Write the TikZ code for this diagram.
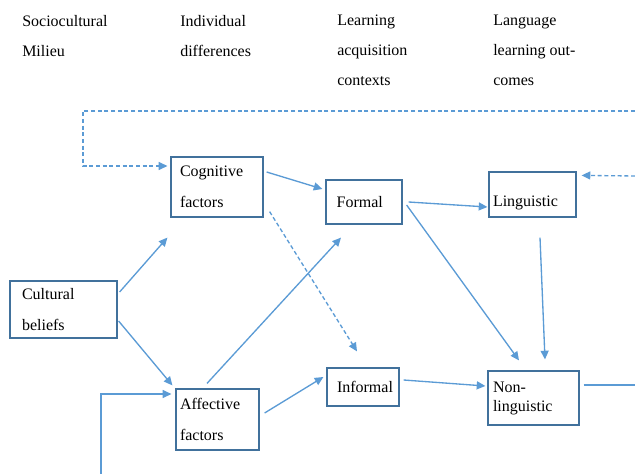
\documentclass[tikz,border=0pt]{standalone}
\usepackage{fontspec}
\setmainfont{Liberation Serif}
\usetikzlibrary{arrows.meta,calc}
\definecolor{lineblue}{HTML}{5B9BD5}
\definecolor{boxblue}{HTML}{41719C}
\tikzset{
  factor/.style={draw=boxblue, line width=0.9pt, align=left, inner ysep=0pt,
    font=\fontsize{12}{23.25}\selectfont},
  head/.style={anchor=north west, inner sep=0pt, align=left,
    font=\fontsize{12}{22.5}\selectfont},
  link/.style={draw=lineblue, line width=1pt, -{Triangle[length=6.5pt,width=6pt]}},
  plain/.style={draw=lineblue, line width=1pt},
  feedback/.style={draw=lineblue, line width=1pt, dash pattern=on 3pt off 2pt}
}
\begin{document}
\begin{tikzpicture}[x=0.75pt, y=-0.75pt]
\useasboundingbox (0,0) rectangle (635,474);

% column headings
\node [head] (h1) at (22,15) {Sociocultural\\Milieu};
\node [head] (h2) at (180,15) {Individual\\differences};
\node [head] (h3) at (337,15) {Learning\\acquisition\\contexts};
\node [head] (h4) at (493,15) {Language\\learning out-\\comes};

% boxes
\node [factor, inner xsep=9pt, text width=62.25pt, minimum height=42.75pt] (cult) at (63.5,309.5) {Cultural\\beliefs};
\node [factor, inner xsep=6.75pt, text width=55.5pt, minimum height=45pt] (cog) at (217,187) {Cognitive\\factors};
\node [factor, inner xsep=3pt, text width=56.25pt, minimum height=45.75pt] (aff) at (217.5,419.5) {Affective\\factors};
\node [factor, inner xsep=8pt, text width=41pt, minimum height=33pt] (formal) at (364,202) {Formal};
\node [factor, inner xsep=7.5pt, text width=39pt, minimum height=28.5pt] (inf) at (363,387) {Informal};
\node [factor, inner xsep=3pt, text width=59.25pt, minimum height=33.75pt, text height=21pt] (ling) at (532.5,194.5) {Linguistic};
\node [factor, inner xsep=3.75pt, text width=60.75pt, minimum height=40.5pt,
  font=\fontsize{12}{14.25}\selectfont] (nonl) at (533.5,398) {Non-\\linguistic};

% free ends at the border
\coordinate (topR) at (635,111);
\coordinate (midR) at (635,176);
\coordinate (lowR) at (635,385);
\coordinate (botL) at (101,474);

% connectors
\draw [link] ($(cult.east)+(2,-17.5)$) -- ($(cog.south west)+(-3,20)$);
\draw [link] ($(cult.east)+(1,11.5)$) -- ($(aff.north west)+(-3,-3)$);
\draw [link] ($(cog.east)+(3,-15)$) -- ($(formal.west)+(-3,-13)$);
\draw [link, feedback] ($(cog.south east)+(6,-6)$) -- ($(inf.north)+(-6,-16)$);
\draw [link] ($(aff.north)+(-10.5,-5)$) -- ($(formal.south)+(-23,13)$);
\draw [link] ($(aff.east)+(5,-6.5)$) -- ($(inf.west)+(-3,-10)$);
\draw [link] ($(formal.east)+(6,0)$) -- ($(ling.west)+(-1,12.5)$);
\draw [link] ($(formal.east)+(4,3)$) -- ($(nonl.north)+(-14.5,-10)$);
\draw [link] ($(ling.south)+(7.5,20)$) -- ($(nonl.north)+(11.5,-11)$);
\draw [link] ($(inf.east)+(4,-7)$) -- ($(nonl.west)+(-2,-12)$);
\draw [plain] ($(nonl.east)+(4,-13)$) -- (lowR);

% feedback loops
\draw [link, feedback] (topR) -- (83,111) -- (83,166) -- ($(cog.west)+(-3,-21)$);
\draw [link, feedback] (midR) -- ($(ling.north east)+(5,4)$);
\draw [link] (botL) -- (101,394) -- ($(aff.west)+(-4,-25.5)$);

\end{tikzpicture}
\end{document}
